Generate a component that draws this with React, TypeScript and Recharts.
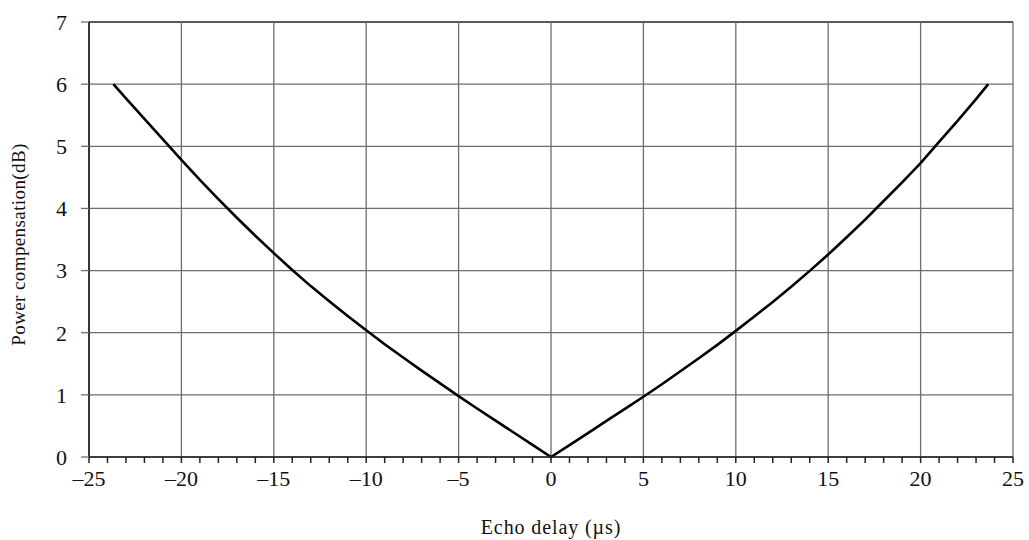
import React from "react";
import { LineChart, Line, XAxis, YAxis, ReferenceLine } from "recharts";

const delayUs = [-23.68, -23, -22, -21, -20, -19, -18, -17, -16, -15, -14, -13, -12, -11, -10, -9, -8, -7, -6, -5, -4, -3, -2, -1, 0,
  1, 2, 3, 4, 5, 6, 7, 8, 9, 10, 11, 12, 13, 14, 15, 16, 17, 18, 19, 20, 21, 22, 23, 23.66];
const compensationDb = [6.0, 5.77, 5.44, 5.11, 4.78, 4.46, 4.15, 3.85, 3.56, 3.28, 3.01, 2.75, 2.505, 2.27, 2.04, 1.815, 1.6, 1.39, 1.185, 0.98, 0.78, 0.585, 0.39, 0.195, 0,
  0.19, 0.385, 0.58, 0.775, 0.97, 1.17, 1.38, 1.59, 1.805, 2.03, 2.26, 2.495, 2.74, 2.995, 3.26, 3.535, 3.82, 4.12, 4.42, 4.73, 5.07, 5.41, 5.76, 6.0];
const xTicks = Array.from({ length: 51 }, (_, i) => i - 25);
const xMajor = [-25, -20, -15, -10, -5, 0, 5, 10, 15, 20, 25];
const yTicks = [0, 1, 2, 3, 4, 5, 6, 7];

const data = delayUs.map((x, i) => ({ x, y: compensationDb[i] }));

const FONT = "'Liberation Serif', 'Times New Roman', serif";

const fmtX = (v: number) => (v % 5 === 0 ? (v < 0 ? "\u2013" + Math.abs(v) : String(v)) : "");

export default function App() {
  return (
    <div style={{ position: "absolute", left: 0, top: 0, width: 1029, height: 540, background: "#fff", fontFamily: FONT }}>
      <LineChart width={1029} height={540} data={data} margin={{ top: 22, right: 16, bottom: 0, left: 0 }} style={{ fontFamily: FONT }}>
        {yTicks.map((t) => (
          <ReferenceLine key={"h" + t} y={t} stroke={t === 7 ? "#222" : "#6e6e6e"} strokeWidth={1.3} />
        ))}
        {xMajor.map((t) => (
          <ReferenceLine key={"v" + t} x={t} stroke={t === -25 ? "#222" : "#6e6e6e"} strokeWidth={1.3} />
        ))}
        <XAxis
          type="number"
          dataKey="x"
          domain={[-25, 25]}
          ticks={xTicks}
          interval={0}
          tickFormatter={fmtX}
          tickSize={6}
          tickMargin={7}
          height={83}
          stroke="#222"
          strokeWidth={1.5}
          tick={{ fill: "#111", fontSize: 22, fontFamily: FONT, style: { fontFamily: FONT } }}
          label={{ value: "Echo delay (\u00b5s)", position: "insideBottom", offset: 6, fill: "#111", fontSize: 20, fontFamily: FONT, style: { fontFamily: FONT, letterSpacing: "0.9px" } }}
        />
        <YAxis
          type="number"
          domain={[0, 7]}
          ticks={yTicks}
          interval={0}
          width={89}
          tickSize={8}
          tickMargin={14}
          axisLine={{ stroke: "#222", strokeWidth: 1.5 }}
          tickLine={{ stroke: "#6e6e6e", strokeWidth: 1.3 }}
          tick={{ fill: "#111", fontSize: 22, fontFamily: FONT, style: { fontFamily: FONT } }}
          label={{ value: "Power compensation(dB)", angle: -90, position: "insideLeft", offset: 18, dy: 5, fill: "#111", fontSize: 19, fontFamily: FONT, style: { textAnchor: "middle", fontFamily: FONT, letterSpacing: "0.4px" } }}
        />
        <Line type="linear" dataKey="y" stroke="#000" strokeWidth={2.6} dot={false} isAnimationActive={false} />
      </LineChart>
    </div>
  );
}
